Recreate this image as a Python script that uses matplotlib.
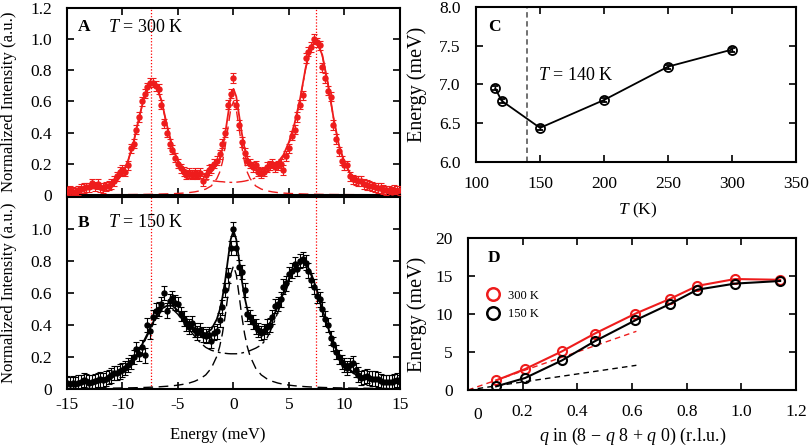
import numpy as np
import matplotlib
matplotlib.use('Agg')
import matplotlib.pyplot as plt
from matplotlib.lines import Line2D

plt.rcParams['font.family'] = ['Liberation Serif', 'DejaVu Serif']
plt.rcParams['mathtext.fontset'] = 'custom'
plt.rcParams['mathtext.rm'] = 'Liberation Serif'
plt.rcParams['mathtext.it'] = 'Liberation Serif:italic'
plt.rcParams['mathtext.bf'] = 'Liberation Serif:bold'

# ---------------- data: panels A and B (energy scans) ----------------
energy = [-15.0, -14.75, -14.5, -14.25, -14.0, -13.75, -13.5, -13.25,
          -13.0, -12.75, -12.5, -12.25, -12.0, -11.75, -11.5, -11.25,
          -11.0, -10.75, -10.5, -10.25, -10.0, -9.75, -9.5, -9.25,
          -9.0, -8.75, -8.5, -8.25, -8.0, -7.75, -7.5, -7.25,
          -7.0, -6.75, -6.5, -6.25, -6.0, -5.75, -5.5, -5.25,
          -5.0, -4.75, -4.5, -4.25, -4.0, -3.75, -3.5, -3.25,
          -3.0, -2.75, -2.5, -2.25, -2.0, -1.75, -1.5, -1.25,
          -1.0, -0.75, -0.5, -0.25, 0.0, 0.25, 0.5, 0.75,
          1.0, 1.25, 1.5, 1.75, 2.0, 2.25, 2.5, 2.75,
          3.0, 3.25, 3.5, 3.75, 4.0, 4.25, 4.5, 4.75,
          5.0, 5.25, 5.5, 5.75, 6.0, 6.25, 6.5, 6.75,
          7.0, 7.25, 7.5, 7.75, 8.0, 8.25, 8.5, 8.75,
          9.0, 9.25, 9.5, 9.75, 10.0, 10.25, 10.5, 10.75,
          11.0, 11.25, 11.5, 11.75, 12.0, 12.25, 12.5, 12.75,
          13.0, 13.25, 13.5, 13.75, 14.0, 14.25, 14.5, 14.75,
          15.0]

int_300 = [0.02, 0.03, 0.02, 0.015, 0.03, 0.04, 0.045, 0.05,
           0.05, 0.075, 0.055, 0.07, 0.05, 0.045, 0.055, 0.06,
           0.07, 0.09, 0.12, 0.15, 0.16, 0.15, 0.19, 0.30,
           0.33, 0.42, 0.50, 0.60, 0.65, 0.69, 0.72, 0.72,
           0.70, 0.68, 0.58, 0.46, 0.40, 0.33, 0.29, 0.24,
           0.20, 0.17, 0.15, 0.13, 0.14, 0.13, 0.14, 0.13,
           0.14, 0.09, 0.13, 0.16, 0.17, 0.20, 0.22, 0.26,
           0.33, 0.40, 0.58, 0.65, 0.75, 0.58, 0.45, 0.34,
           0.27, 0.22, 0.20, 0.18, 0.19, 0.15, 0.14, 0.15,
           0.18, 0.19, 0.20, 0.18, 0.19, 0.20, 0.16, 0.25,
           0.30, 0.38, 0.42, 0.50, 0.58, 0.64, 0.88, 0.92,
           0.95, 1.00, 0.98, 0.96, 0.82, 0.75, 0.67, 0.63,
           0.45, 0.36, 0.28, 0.22, 0.19, 0.19, 0.12, 0.10,
           0.095, 0.09, 0.09, 0.07, 0.065, 0.06, 0.055, 0.05,
           0.045, 0.045, 0.035, 0.03, 0.025, 0.02, 0.035, 0.025,
           0.03]

int_150 = [0.035, 0.03, 0.035, 0.03, 0.04, 0.045, 0.055, 0.05,
           0.04, 0.045, 0.05, 0.055, 0.06, 0.055, 0.065, 0.075,
           0.085, 0.10, 0.10, 0.11, 0.12, 0.13, 0.15, 0.17,
           0.20, 0.25, 0.22, 0.26, 0.21, 0.40, 0.36, 0.45,
           0.49, 0.50, 0.53, 0.60, 0.49, 0.55, 0.57, 0.54,
           0.53, 0.47, 0.44, 0.41, 0.39, 0.41, 0.37, 0.35,
           0.37, 0.34, 0.33, 0.34, 0.30, 0.35, 0.36, 0.43,
           0.51, 0.62, 0.71, 0.88, 1.00, 0.88, 0.76, 0.73,
           0.62, 0.47, 0.45, 0.42, 0.39, 0.37, 0.35, 0.36,
           0.39, 0.40, 0.45, 0.52, 0.53, 0.56, 0.64, 0.66,
           0.72, 0.74, 0.78, 0.75, 0.80, 0.81, 0.79, 0.74,
           0.68, 0.64, 0.58, 0.56, 0.50, 0.44, 0.40, 0.32,
           0.28, 0.23, 0.20, 0.17, 0.15, 0.13, 0.15, 0.16,
           0.12, 0.09, 0.07, 0.075, 0.08, 0.07, 0.065, 0.065,
           0.06, 0.05, 0.045, 0.045, 0.045, 0.045, 0.05, 0.055,
           0.045]

err_300 = 0.03
err_150 = 0.045

fit_energy = [-15, -14, -13, -12, -11, -10.5, -10, -9.5, -9, -8.5,
              -8, -7.5, -7, -6.5, -6, -5.5, -5, -4.5, -4, -3.5,
              -3, -2.5, -2, -1.5, -1.25, -1, -0.75, -0.5, -0.25, 0,
              0.25, 0.5, 0.75, 1, 1.25, 1.5, 2, 2.5, 3, 3.5,
              4, 4.5, 5, 5.5, 6, 6.5, 7, 7.5, 8, 8.5,
              9, 9.5, 10, 10.5, 11, 12, 13, 14, 15]

side_300 = [0.024, 0.029, 0.038, 0.048, 0.063, 0.088, 0.137, 0.217, 0.337, 0.496,
            0.636, 0.715, 0.705, 0.604, 0.443, 0.30, 0.21, 0.158, 0.13, 0.115,
            0.105, 0.097, 0.092, 0.088, 0.086, 0.085, 0.083, 0.082, 0.081, 0.081,
            0.082, 0.084, 0.086, 0.089, 0.093, 0.097, 0.11, 0.125, 0.145, 0.165,
            0.195, 0.245, 0.33, 0.45, 0.61, 0.81, 0.955, 0.98, 0.895, 0.716,
            0.497, 0.317, 0.207, 0.138, 0.098, 0.063, 0.048, 0.039, 0.034]

central_300 = [0.0011, 0.0013, 0.0015, 0.0018, 0.0021, 0.0023, 0.0025, 0.0028, 0.0031, 0.0035,
               0.0039, 0.0045, 0.0051, 0.006, 0.007, 0.0083, 0.010, 0.0122, 0.0154, 0.020,
               0.027, 0.038, 0.058, 0.105, 0.145, 0.21, 0.31, 0.43, 0.55, 0.60,
               0.55, 0.43, 0.31, 0.21, 0.145, 0.105, 0.058, 0.038, 0.027, 0.020,
               0.0154, 0.0122, 0.010, 0.0083, 0.007, 0.006, 0.0051, 0.0045, 0.0039, 0.0035,
               0.0031, 0.0028, 0.0025, 0.0023, 0.0021, 0.0018, 0.0015, 0.0013, 0.0011]

side_150 = [0.027, 0.032, 0.041, 0.051, 0.075, 0.094, 0.114, 0.143, 0.182, 0.232,
            0.30, 0.369, 0.437, 0.486, 0.503, 0.50, 0.466, 0.42, 0.373, 0.33,
            0.29, 0.26, 0.242, 0.232, 0.228, 0.225, 0.223, 0.221, 0.22, 0.22,
            0.22, 0.222, 0.225, 0.229, 0.234, 0.24, 0.255, 0.275, 0.315, 0.39,
            0.48, 0.57, 0.666, 0.74, 0.783, 0.775, 0.71, 0.61, 0.49, 0.38,
            0.28, 0.205, 0.155, 0.115, 0.085, 0.061, 0.046, 0.039, 0.033]

central_150 = [0.0028, 0.0032, 0.0037, 0.0043, 0.0051, 0.0056, 0.0062, 0.0069, 0.0076, 0.0085,
               0.0096, 0.011, 0.0125, 0.0145, 0.017, 0.020, 0.024, 0.0296, 0.037, 0.048,
               0.064, 0.088, 0.130, 0.204, 0.263, 0.345, 0.455, 0.588, 0.715, 0.77,
               0.715, 0.588, 0.455, 0.345, 0.263, 0.204, 0.130, 0.088, 0.064, 0.048,
               0.037, 0.0296, 0.024, 0.020, 0.017, 0.0145, 0.0125, 0.011, 0.0096, 0.0085,
               0.0076, 0.0069, 0.0062, 0.0056, 0.0051, 0.0043, 0.0037, 0.0032, 0.0028]

peak_lines = [-7.4, 7.4]

# ---------------- data: panel C ----------------
temps = [115, 120, 150, 200, 250, 300]
peak_energy = [6.95, 6.79, 6.44, 6.80, 7.23, 7.45]
peak_err = 0.025
t_transition = 140

# ---------------- data: panel D ----------------
q = [0.103, 0.209, 0.344, 0.463, 0.612, 0.738, 0.839, 0.977, 1.142]
disp_300 = [1.27, 2.76, 5.09, 7.41, 10.04, 11.97, 13.7, 14.6, 14.5]
disp_150 = [0.48, 1.58, 3.9, 6.4, 9.17, 11.3, 13.2, 14.0, 14.34]
slope_q = [0.0, 0.616]
slope_300 = [0.0, 7.72]
slope_150 = [0.0, 3.25]

RED = '#ee1c1c'
FS = 12.5

fig = plt.figure(figsize=(8.1, 4.47), dpi=100)


def style(ax, ypad=10, xpad=10):
    ax.tick_params(direction='in', top=True, right=True, length=5, width=1.2,
                   labelsize=FS)
    ax.tick_params(axis='y', pad=ypad)
    ax.tick_params(axis='x', pad=xpad)
    for s in ax.spines.values():
        s.set_linewidth(1.5)


def spectrum(ax, data, err, side, central, color):
    ax.errorbar(energy, data, yerr=err, fmt='o', color=color, ms=3.6,
                elinewidth=0.8, capsize=2, capthick=0.8, zorder=3)
    total = np.add(side, central)
    ax.plot(fit_energy, total, color=color, lw=1.3, zorder=4)
    ax.plot(fit_energy, side, color=color, lw=1.0, dashes=[9, 3, 2, 3], zorder=2)
    ax.plot(fit_energy, central, color=color, lw=1.0, dashes=[7, 4], zorder=2)
    for x in peak_lines:
        ax.axvline(x, color='red', lw=0.9, ls=(0, (1, 1.5)), zorder=1)
    ax.set_xlim(-15, 15)
    ax.set_ylim(0, 1.2)
    ax.set_xticks([-15, -10, -5, 0, 5, 10, 15])


# Panel A
axA = fig.add_axes([0.0827, 0.5638, 0.4111, 0.4183])
spectrum(axA, int_300, err_300, side_300, central_300, RED)
axA.set_yticks([0, 0.2, 0.4, 0.6, 0.8, 1.0, 1.2])
axA.set_yticklabels(['0', '0.2', '0.4', '0.6', '0.8', '1.0', '1.2'])
style(axA, ypad=11)
axA.tick_params(labelbottom=False)
axA.set_ylabel('Normalized Intensity (a.u.)', fontsize=12)
axA.yaxis.set_label_coords(-0.15, 0.5)
axA.text(0.033, 0.898, 'A', transform=axA.transAxes, fontsize=12.5,
         fontweight='bold', va='center')
axA.text(0.123, 0.898, '$T$ = 300 K', transform=axA.transAxes, fontsize=13,
         va='center')

# Panel B
axB = fig.add_axes([0.0827, 0.1298, 0.4111, 0.4295])
spectrum(axB, int_150, err_150, side_150, central_150, 'black')
axB.set_yticks([0, 0.2, 0.4, 0.6, 0.8, 1.0])
axB.set_yticklabels(['0', '0.2', '0.4', '0.6', '0.8', '1.0'])
axB.set_xticklabels(['-15', '-10', '-5', '0', '5', '10', '15'])
style(axB, ypad=11, xpad=6)
axB.set_ylabel('Normalized Intensity (a.u.)', fontsize=12)
axB.yaxis.set_label_coords(-0.15, 0.5)
axB.set_xlabel('Energy (meV)', fontsize=12)
axB.xaxis.set_label_coords(0.453, -0.2)
axB.text(0.033, 0.865, 'B', transform=axB.transAxes, fontsize=12.5,
         fontweight='bold', va='center')
axB.text(0.123, 0.865, '$T$ = 150 K', transform=axB.transAxes, fontsize=13,
         va='center')

# Panel C
axC = fig.add_axes([0.5877, 0.6376, 0.395, 0.3468])
axC.axvline(t_transition, color='#666666', lw=1.3, dashes=[3, 2])
axC.errorbar(temps, peak_energy, yerr=peak_err, fmt='-o', color='black',
             mfc='none', ms=6.5, mew=1.3, lw=1.3, capsize=2, elinewidth=1.0)
axC.set_xlim(100, 350)
axC.set_ylim(6.0, 8.0)
axC.set_xticks([100, 150, 200, 250, 300, 350])
axC.set_yticks([6.0, 6.5, 7.0, 7.5, 8.0])
axC.set_yticklabels(['6.0', '6.5', '7.0', '7.5', '8.0'])
style(axC, ypad=11, xpad=10)
axC.set_ylabel('Energy (meV)', fontsize=14.5)
axC.yaxis.set_label_coords(-0.153, 0.5)
axC.set_xlabel('$T$ (K)', fontsize=12.5)
axC.xaxis.set_label_coords(0.506, -0.25)
axC.text(0.0375, 0.87, 'C', transform=axC.transAxes, fontsize=12.5,
         fontweight='bold', va='center')
axC.text(0.194, 0.555, '$T$ = 140 K', transform=axC.transAxes, fontsize=13,
         va='center')

# Panel D
axD = fig.add_axes([0.5778, 0.1275, 0.4049, 0.3401])
axD.plot(slope_q, slope_300, color=RED, lw=1.0, dashes=[4, 3])
axD.plot(slope_q, slope_150, color='black', lw=1.0, dashes=[4, 3])
axD.plot(q, disp_300, '-o', color=RED, mfc='none', ms=6.5, mew=1.5, lw=1.5)
axD.plot(q, disp_150, '-o', color='black', mfc='none', ms=6.5, mew=1.5, lw=1.5)
axD.set_xlim(0, 1.2)
axD.set_ylim(0, 20)
axD.set_xticks([0, 0.2, 0.4, 0.6, 0.8, 1.0, 1.2])
axD.set_xticklabels(['', '0.2', '0.4', '0.6', '0.8', '1.0', '1.2'])
axD.set_yticks([0, 5, 10, 15, 20])
style(axD, ypad=11, xpad=10)
axD.annotate('0', xy=(0.035, -0.165), xycoords=('data', 'axes fraction'),
             fontsize=FS, ha='center', va='center')
axD.set_ylabel('Energy (meV)', fontsize=14.5)
axD.yaxis.set_label_coords(-0.125, 0.5)
axD.set_xlabel('$q$ in (8 $-$ $q$ 8 + $q$ 0) (r.l.u.)', fontsize=13)
axD.xaxis.set_label_coords(0.503, -0.235)
axD.text(0.061, 0.868, 'D', transform=axD.transAxes, fontsize=12.5,
         fontweight='bold', va='center')
handles = [Line2D([], [], marker='o', ls='none', mfc='none', mec=RED, ms=9, mew=1.8),
           Line2D([], [], marker='o', ls='none', mfc='none', mec='black', ms=9, mew=1.8)]
axD.legend(handles, ['300 K', '150 K'], loc='upper left', bbox_to_anchor=(0.02, 0.735),
           frameon=False, fontsize=9, handletextpad=0.6, labelspacing=0.55,
           handlelength=1.2)

fig.savefig('out.png', dpi=100)
